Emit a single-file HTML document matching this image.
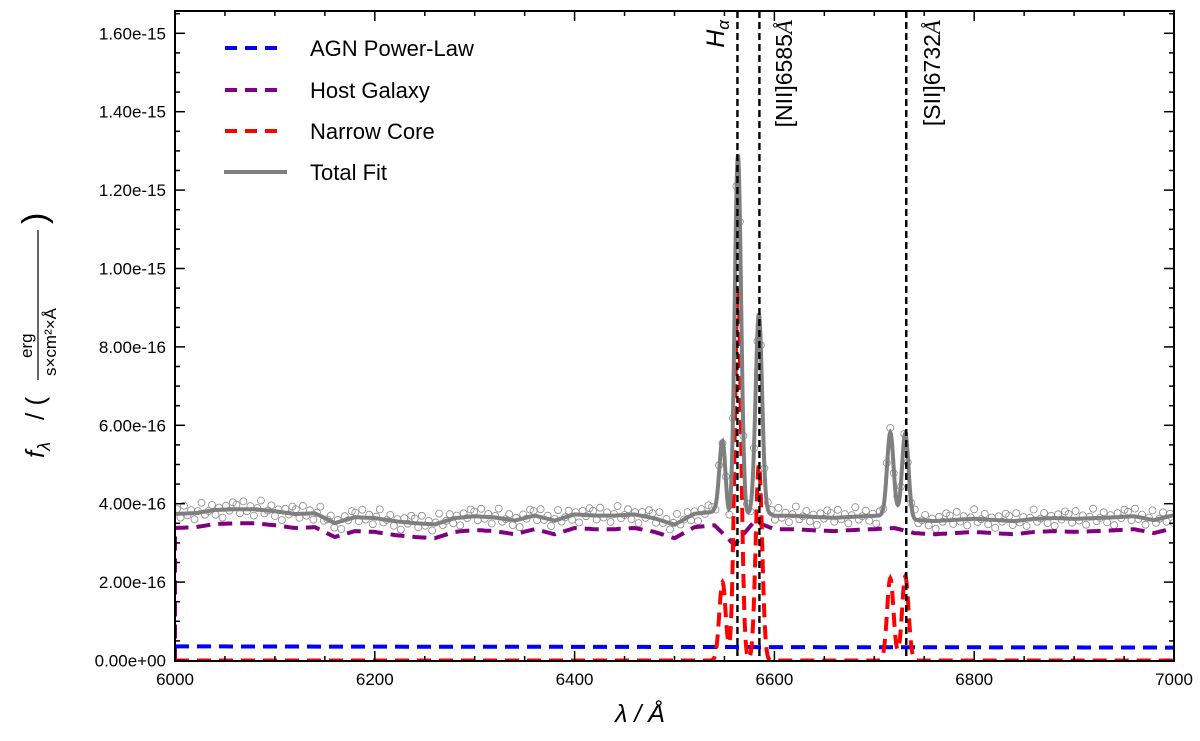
<!DOCTYPE html>
<html><head><meta charset="utf-8"><style>
body{margin:0;background:#fff}
svg text{font-family:"Liberation Sans","DejaVu Sans",sans-serif}
</style></head><body>
<svg id="chart" width="1200" height="736" xmlns="http://www.w3.org/2000/svg">
<g id="plot"></g>
</svg>
<script>
// ---- data (flux units of 1e-16) ----
const hostWave = [6000,6020,6040,6060,6080,6100,6120,6140,6160,6180,6200,6220,6240,6260,6280,6300,6320,6340,6360,6380,6400,6420,6440,6460,6480,6500,6520,6540,6560,6580,6600,6620,6640,6660,6680,6700,6720,6740,6760,6780,6800,6820,6840,6860,6880,6900,6920,6940,6960,6980,7000];
const hostFlux = [3.38,3.40,3.48,3.50,3.50,3.45,3.38,3.40,3.15,3.30,3.28,3.20,3.15,3.12,3.28,3.33,3.30,3.22,3.35,3.22,3.38,3.35,3.35,3.38,3.28,3.12,3.40,3.45,2.95,3.55,3.35,3.35,3.32,3.30,3.33,3.35,3.38,3.25,3.22,3.25,3.28,3.25,3.22,3.28,3.30,3.28,3.30,3.32,3.35,3.25,3.38];
const agnWave = [6000,7000];
const agnFlux = [0.36,0.33];
const lineCenters = [6548,6563.5,6584.5,6716,6731];
const lineAmps = [2.0,9.5,5.0,2.1,2.15];
const lineSigma = [3.2,3.2,3.2,3.2,3.2];
const scatter = [0.12,-0.1,0.2,-0.05,0.08,-0.16,0.04,0.24,-0.08,0.0,0.14,-0.12,0.06,-0.2,0.1,-0.03,0.18];
const xTicks = [6000,6200,6400,6600,6800,7000];
const yTicks = [0,2,4,6,8,10,12,14,16];
const yTickLabels = ["0.00e+00","2.00e-16","4.00e-16","6.00e-16","8.00e-16","1.00e-15","1.20e-15","1.40e-15","1.60e-15"];
const markLines = [6563,6585,6732];

const X0=175,X1=1174,Y0=661,Y1=11;
const xs=w=>X0+(w-6000)/1000*(X1-X0);
const ys=v=>660.5-v*39.2;
const NS='http://www.w3.org/2000/svg';
const svg=document.getElementById('chart');
const plot=document.getElementById('plot');
function mk(tag,attrs,parent){const e=document.createElementNS(NS,tag);for(const k in attrs)e.setAttribute(k,attrs[k]);(parent||plot).appendChild(e);return e;}
function interp(wa,fa,w){for(let i=0;i<wa.length-1;i++){if(w>=wa[i]&&w<=wa[i+1]){const t=(w-wa[i])/(wa[i+1]-wa[i]);return fa[i]+t*(fa[i+1]-fa[i]);}}return fa[fa.length-1];}
function narrow(w){let s=0;for(let i=0;i<lineCenters.length;i++){const d=(w-lineCenters[i])/lineSigma[i];s+=lineAmps[i]*Math.exp(-0.5*d*d);}return s;}
function host(w){return interp(hostWave,hostFlux,w);}
function agn(w){return interp(agnWave,agnFlux,w);}
function total(w){return host(w)+agn(w)+narrow(w);}

const cp=mk('clipPath',{id:'cp'},svg);mk('rect',{x:X0,y:Y1,width:X1-X0,height:Y0-Y1},cp);
const g=mk('g',{'clip-path':'url(#cp)'});

// data points
const pts=mk('g',{},g);


let k=0;
for(let w=6002;w<7000;w+=3.5){const v=total(w)+scatter[k%scatter.length];k++;
 mk('circle',{cx:xs(w).toFixed(1),cy:ys(v).toFixed(1),r:3.5,fill:'none',stroke:'#888','stroke-width':0.8},pts);}

function path(fn,step){let d='';for(let w=6000;w<=7000.001;w+=step){d+=(d?'L':'M')+xs(w).toFixed(1)+','+ys(fn(w)).toFixed(1);}return d;}
const hp=mk('path',{d:'M'+X0+','+ys(0)+'L'+path(host,2).slice(1),fill:'none',stroke:'#800080','stroke-width':4,'stroke-dasharray':'14,8'},g);


const ap=mk('path',{d:path(agn,10),fill:'none',stroke:'#0000ff','stroke-width':4,'stroke-dasharray':'14,8'},g);


const np=mk('path',{d:path(narrow,0.5),fill:'none',stroke:'#ff0000','stroke-width':4,'stroke-dasharray':'14,8'},g);


const tp=mk('path',{d:path(total,0.5),fill:'none',stroke:'#7f7f7f','stroke-width':4},g);



markLines.forEach(w=>{const l=mk('line',{x1:xs(w),x2:xs(w),y1:Y1,y2:Y0,stroke:'#000','stroke-width':2.4,'stroke-dasharray':'7,4'});
 
 });

const fr=mk('rect',{x:X0,y:Y1,width:X1-X0,height:Y0-Y1,fill:'none',stroke:'#000','stroke-width':2});



for(let w=6000;w<=7000;w+=50){const maj=(w%200===0);const L=maj?10:5;
 mk('line',{x1:xs(w),x2:xs(w),y1:Y0,y2:Y0-L,stroke:'#000','stroke-width':1.5});
 mk('line',{x1:xs(w),x2:xs(w),y1:Y1,y2:Y1+L,stroke:'#000','stroke-width':1.5});}
xTicks.forEach(w=>{const t=mk('text',{x:xs(w),y:685,'font-size':17,'text-anchor':'middle'});t.textContent=w;
 
 });
for(let v=0;v<=16.6;v+=0.5){const maj=(Math.round(v*10)%20===0);const L=maj?10:5;
 mk('line',{x1:X0,x2:X0+L,y1:ys(v),y2:ys(v),stroke:'#000','stroke-width':1.5});
 mk('line',{x1:X1,x2:X1-L,y1:ys(v),y2:ys(v),stroke:'#000','stroke-width':1.5});}
yTicks.forEach((v,i)=>{const t=mk('text',{x:166,y:ys(v)+6,'font-size':17,'text-anchor':'end'});t.textContent=yTickLabels[i];
 
 });
</script>
<svg width="1200" height="736" style="position:absolute;left:0;top:0" xmlns="http://www.w3.org/2000/svg">
<g font-size="22">
<line x1="225" y1="48" x2="285" y2="48" stroke="#0000ff" stroke-width="4" stroke-dasharray="12,8"/><text x="310" y="56">AGN Power-Law</text>
<line x1="225" y1="90" x2="285" y2="90" stroke="#800080" stroke-width="4" stroke-dasharray="12,8"/><text x="310" y="98">Host Galaxy</text>
<line x1="225" y1="131" x2="285" y2="131" stroke="#ff0000" stroke-width="4" stroke-dasharray="12,8"/><text x="310" y="139">Narrow Core</text>
<line x1="224" y1="172" x2="287" y2="172" stroke="#7f7f7f" stroke-width="4"/><text x="310" y="180">Total Fit</text>
</g>
<text transform="translate(724,20) rotate(-90)" text-anchor="end" font-size="25" font-family="Liberation Serif,serif" font-style="italic">H<tspan font-size="17" dy="5">α</tspan></text>
<text transform="translate(792,20) rotate(-90)" text-anchor="end" font-size="23">[NII]6585<tspan font-family="Liberation Serif,serif" font-style="italic">Å</tspan></text>
<text transform="translate(940,20) rotate(-90)" text-anchor="end" font-size="23">[SII]6732<tspan font-family="Liberation Serif,serif" font-style="italic">Å</tspan></text>
<text x="640" y="722" text-anchor="middle" font-size="25" font-family="Liberation Serif,serif" font-style="italic">λ / Å</text>
<g transform="translate(44,318) rotate(-90)" font-family="Liberation Serif,serif">
<text x="-140" y="0" font-size="26" font-style="italic">f<tspan font-size="18" dy="6">λ</tspan></text>
<text x="-102" y="0" font-size="26">/ (</text>
<text x="-40" y="-12" font-size="17">erg</text>
<line x1="-62" y1="-6" x2="88" y2="-6" stroke="#000" stroke-width="1.2"/>
<text x="-58" y="12" font-size="17">s×cm²×Å</text>
<text x="94" y="2" font-size="34">)</text>
</g>
</svg>
</body></html>
